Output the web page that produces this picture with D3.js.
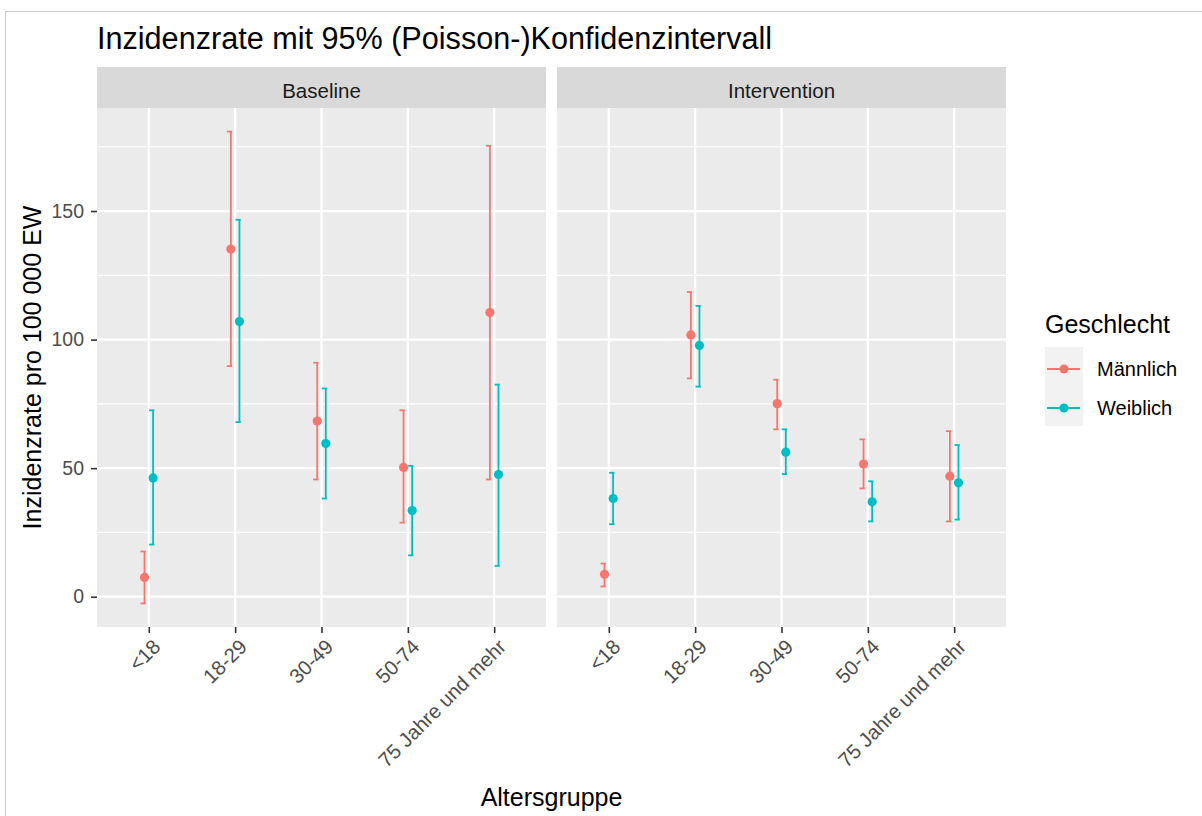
<!DOCTYPE html>
<html>
<head>
<meta charset="utf-8">
<script src="https://cdn.jsdelivr.net/npm/d3@7"></script>
<style>
  html, body { margin: 0; padding: 0; background: #ffffff; }
  svg { display: block; }
  text { font-family: "Liberation Sans", Arial, sans-serif; }
</style>
</head>
<body>
<svg id="chart" width="1202" height="816"></svg>
<script>
// ---------------- data ----------------
const panels = ["Baseline", "Intervention"];
const ageGroups = ["<18", "18-29", "30-49", "50-74", "75 Jahre und mehr"];
const sexes = ["Männlich", "Weiblich"];
const sexColors = ["#F8766D", "#00BFC4"];

// Baseline
const baselineMaleRate  = [7.5, 135.2, 68.3, 50.3, 110.5];
const baselineMaleLower = [-2.6, 89.7, 45.6, 28.8, 45.6];
const baselineMaleUpper = [17.6, 180.9, 91.0, 72.5, 175.4];
const baselineFemaleRate  = [46.2, 107.0, 59.6, 33.5, 47.5];
const baselineFemaleLower = [20.3, 67.9, 38.2, 16.1, 12.0];
const baselineFemaleUpper = [72.5, 146.6, 81.0, 50.9, 82.5];

// Intervention
const interventionMaleRate  = [8.7, 101.8, 75.1, 51.6, 46.9];
const interventionMaleLower = [4.0, 84.9, 65.1, 42.1, 29.3];
const interventionMaleUpper = [12.9, 118.5, 84.4, 61.2, 64.4];
const interventionFemaleRate  = [38.2, 97.7, 56.2, 36.9, 44.3];
const interventionFemaleLower = [28.2, 81.7, 47.7, 29.3, 30.0];
const interventionFemaleUpper = [48.2, 113.1, 65.1, 44.9, 59.0];

const yMajorTicks = [0, 50, 100, 150];
const yMinorTicks = [25, 75, 125, 175];

const titleText = "Inzidenzrate mit 95% (Poisson-)Konfidenzintervall";
const xTitle = "Altersgruppe";
const yTitle = "Inzidenzrate pro 100 000 EW";
const legendTitle = "Geschlecht";

// ---------------- build rows ----------------
const series = {
  "Baseline": [
    [baselineMaleRate, baselineMaleLower, baselineMaleUpper],
    [baselineFemaleRate, baselineFemaleLower, baselineFemaleUpper]
  ],
  "Intervention": [
    [interventionMaleRate, interventionMaleLower, interventionMaleUpper],
    [interventionFemaleRate, interventionFemaleLower, interventionFemaleUpper]
  ]
};
const rows = [];
panels.forEach(p => {
  sexes.forEach((s, si) => {
    const [r, lo, hi] = series[p][si];
    ageGroups.forEach((a, ai) => {
      rows.push({panel: p, sex: s, si, age: a, rate: r[ai], lower: lo[ai], upper: hi[ai]});
    });
  });
});

// ---------------- layout ----------------
const svg = d3.select("#chart");
const panelTop = 108, panelBottom = 627;
const stripTop = 67;
const panelX = {"Baseline": [97, 546], "Intervention": [557, 1006]};

const dataMin = d3.min(rows, d => d.lower), dataMax = d3.max(rows, d => d.upper);
const pad = (dataMax - dataMin) * 0.05;
const y = d3.scaleLinear().domain([dataMin - pad, dataMax + pad]).range([panelBottom, panelTop]);

// frame lines (screenshot border)
svg.append("line").attr("x1", 5).attr("x2", 1202).attr("y1", 11.5).attr("y2", 11.5)
  .attr("stroke", "#c6c6c6").attr("stroke-width", 1);
svg.append("line").attr("x1", 5.5).attr("x2", 5.5).attr("y1", 11).attr("y2", 816)
  .attr("stroke", "#c6c6c6").attr("stroke-width", 1);

// title
svg.append("text").attr("x", 97).attr("y", 49).attr("font-size", 30.6).attr("fill", "#000")
  .text(titleText);

const dodge = 4.3;

panels.forEach(p => {
  const [x0, x1] = panelX[p];
  const x = d3.scalePoint().domain(ageGroups).range([x0, x1]).padding(0.6);
  const g = svg.append("g");

  // strip
  g.append("rect").attr("x", x0).attr("y", stripTop).attr("width", x1 - x0).attr("height", panelTop - stripTop)
    .attr("fill", "#D9D9D9");
  g.append("text").attr("x", (x0 + x1) / 2).attr("y", 98).attr("text-anchor", "middle")
    .attr("font-size", 20.5).attr("fill", "#1a1a1a").text(p);

  // panel background
  g.append("rect").attr("x", x0).attr("y", panelTop).attr("width", x1 - x0).attr("height", panelBottom - panelTop)
    .attr("fill", "#EBEBEB");

  // minor grid
  g.selectAll(".ymin").data(yMinorTicks).join("line")
    .attr("x1", x0).attr("x2", x1).attr("y1", d => y(d)).attr("y2", d => y(d))
    .attr("stroke", "#ffffff").attr("stroke-width", 1.2);
  // major grid
  g.selectAll(".ymaj").data(yMajorTicks).join("line")
    .attr("x1", x0).attr("x2", x1).attr("y1", d => y(d)).attr("y2", d => y(d))
    .attr("stroke", "#ffffff").attr("stroke-width", 2.2);
  g.selectAll(".xmaj").data(ageGroups).join("line")
    .attr("x1", d => x(d)).attr("x2", d => x(d)).attr("y1", panelTop).attr("y2", panelBottom)
    .attr("stroke", "#ffffff").attr("stroke-width", 2.2);

  // x axis ticks
  const xAxis = d3.axisBottom(x).tickSize(6).tickPadding(0).tickFormat("");
  const xg = g.append("g").attr("transform", `translate(0,${panelBottom})`).call(xAxis);
  xg.select(".domain").remove();
  xg.selectAll(".tick line").attr("stroke", "#333333").attr("stroke-width", 1.6);

  // x tick labels rotated 45
  g.selectAll(".xlab").data(ageGroups).join("text")
    .attr("transform", d => `translate(${x(d) + 13},${648}) rotate(-45)`)
    .attr("text-anchor", "end").attr("font-size", 20.3).attr("fill", "#4d4d4d")
    .text(d => d);

  // data
  const pr = rows.filter(r => r.panel === p);
  const cx = d => x(d.age) + (d.si === 0 ? -dodge : dodge);
  const col = d => sexColors[d.si];

  g.selectAll(".eb").data(pr).join("line")
    .attr("x1", cx).attr("x2", cx).attr("y1", d => y(d.lower)).attr("y2", d => y(d.upper))
    .attr("stroke", col).attr("stroke-width", 1.8);
  g.selectAll(".capT").data(pr).join("line")
    .attr("x1", d => cx(d) - 4).attr("x2", d => cx(d) + 1.3).attr("y1", d => y(d.upper)).attr("y2", d => y(d.upper))
    .attr("stroke", col).attr("stroke-width", 1.8);
  g.selectAll(".capB").data(pr).join("line")
    .attr("x1", d => cx(d) - 4).attr("x2", d => cx(d) + 1.3).attr("y1", d => y(d.lower)).attr("y2", d => y(d.lower))
    .attr("stroke", col).attr("stroke-width", 1.8);
  g.selectAll(".pt").data(pr).join("circle")
    .attr("cx", cx).attr("cy", d => y(d.rate)).attr("r", 4.6).attr("fill", col);
});

// y axis (left of first panel)
const yAxis = d3.axisLeft(y).tickValues(yMajorTicks).tickSize(6).tickPadding(7);
const yg = svg.append("g").attr("transform", `translate(${panelX["Baseline"][0]},0)`).call(yAxis);
yg.select(".domain").remove();
yg.selectAll(".tick line").attr("stroke", "#333333").attr("stroke-width", 1.6);
yg.selectAll(".tick text").attr("font-size", 19.5).attr("fill", "#4d4d4d")
  .attr("font-family", "'Liberation Sans', Arial, sans-serif");

// axis titles
svg.append("text").attr("transform", `translate(41,${(panelTop + panelBottom) / 2}) rotate(-90)`)
  .attr("text-anchor", "middle").attr("font-size", 25).attr("fill", "#000").text(yTitle);
svg.append("text").attr("x", (panelX["Baseline"][0] + panelX["Intervention"][1]) / 2).attr("y", 806)
  .attr("text-anchor", "middle").attr("font-size", 25).attr("fill", "#000").text(xTitle);

// legend
const lg = svg.append("g");
lg.append("text").attr("x", 1045).attr("y", 333).attr("font-size", 25).attr("fill", "#000").text(legendTitle);
lg.append("rect").attr("x", 1045).attr("y", 347).attr("width", 38).attr("height", 79).attr("fill", "#F2F2F2");
sexes.forEach((s, i) => {
  const ly = 369 + i * 39;
  lg.append("line").attr("x1", 1047).attr("x2", 1080).attr("y1", ly).attr("y2", ly)
    .attr("stroke", sexColors[i]).attr("stroke-width", 1.8);
  lg.append("circle").attr("cx", 1064).attr("cy", ly).attr("r", 4.6).attr("fill", sexColors[i]);
  lg.append("text").attr("x", 1097).attr("y", ly).attr("dy", "0.35em").attr("font-size", 20).attr("fill", "#000").text(s);
});
</script>
</body>
</html>
